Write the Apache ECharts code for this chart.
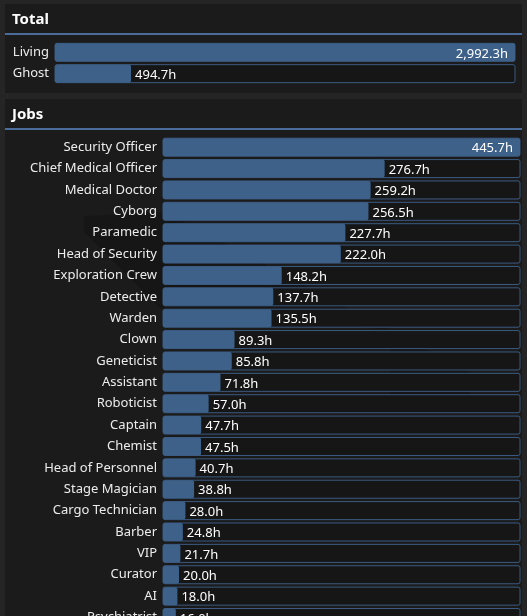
<!DOCTYPE html>
<html><head><meta charset="utf-8">
<script src="https://cdn.jsdelivr.net/npm/echarts@6/dist/echarts.min.js"></script>
<style>html,body{margin:0;padding:0;background:#252525;overflow:hidden;}#c{width:527px;height:640px;}</style>
</head><body><div id="c"></div>
<script>
const totalCats = ['Living', 'Ghost'];
const totalVals = [2992.3, 494.7];
const jobCats = ['Security Officer','Chief Medical Officer','Medical Doctor','Cyborg','Paramedic','Head of Security','Exploration Crew','Detective','Warden','Clown','Geneticist','Assistant','Roboticist','Captain','Chemist','Head of Personnel','Stage Magician','Cargo Technician','Barber','VIP','Curator','AI','Psychiatrist'];
const jobVals = [445.7,276.7,259.2,256.5,227.7,222.0,148.2,137.7,135.5,89.3,85.8,71.8,57.0,47.7,47.5,40.7,38.8,28.0,24.8,21.7,20.0,18.0,16.0];

const FONT = '"Noto Sans", sans-serif';
const fill = '#3e6189';
function fmt(v){ return v.toLocaleString('en-US',{minimumFractionDigits:1,maximumFractionDigits:1}) + 'h'; }
function mkData(vals){
  const mx = Math.max(...vals);
  return vals.map(v => ({
    value: v,
    label: v / mx > 0.85 ? {position:'insideRight', distance:7} : {position:'right', distance:4}
  }));
}
function mkSeries(idx, vals){
  return {
    type:'bar', xAxisIndex:idx, yAxisIndex:idx, barWidth:18, z:3,
    data: mkData(vals),
    itemStyle:{color:fill, borderRadius:2},
    showBackground:true,
    backgroundStyle:{color:'#161616', borderColor:'#3b5a80', borderWidth:1, borderRadius:2},
    label:{show:true, color:'#ffffff', fontSize:13, fontFamily:FONT, offset:[0,1.5], formatter:p=>fmt(p.value)},
    emphasis:{disabled:true}, animation:false
  };
}
function yAx(idx, cats){
  return {type:'category', gridIndex:idx, data:cats, inverse:true,
    axisLine:{show:false}, axisTick:{show:false}, splitLine:{show:false},
    axisLabel:{color:'#ececec', fontSize:13, fontFamily:FONT, margin:6, padding:[5,0,0,0]}};
}
function xAx(idx, vals){
  return {type:'value', gridIndex:idx, min:0, max:Math.max(...vals), show:false, splitLine:{show:false}};
}
const chart = echarts.init(document.getElementById('c'));
chart.setOption({
  backgroundColor:'#252525',
  animation:false,
  grid:[
    {left:55, width:460, top:41.7, height:42.6},
    {left:163, width:357, top:136.5, height:491.7}
  ],
  xAxis:[xAx(0,totalVals), xAx(1,jobVals)],
  yAxis:[yAx(0,totalCats), yAx(1,jobCats)],
  series:[mkSeries(0,totalVals), mkSeries(1,jobVals)],
  graphic:[
    {type:'rect', z:-10, shape:{x:5,y:4,width:517,height:89}, style:{fill:'#1b1b1b'}},
    {type:'rect', z:-10, shape:{x:5,y:33,width:517,height:2}, style:{fill:'#4a6c9a'}},
    {type:'text', z:-5, x:12, y:19.5, style:{text:'Total', fill:'#ffffff', font:'bold 15px "Noto Sans", sans-serif', textVerticalAlign:'middle'}},
    {type:'rect', z:-10, shape:{x:5,y:99,width:517,height:560}, style:{fill:'#1b1b1b'}},
    {type:'rect', z:-10, shape:{x:5,y:128,width:517,height:2}, style:{fill:'#4a6c9a'}},
    {type:'text', z:-5, x:12, y:114.5, style:{text:'Jobs', fill:'#ffffff', font:'bold 15px "Noto Sans", sans-serif', textVerticalAlign:'middle'}},
    {type:'polygon', z:-8, shape:{points:[[84,216],[165,212],[470,372],[470,398],[390,400],[390,330],[160,308],[84,232]]}, style:{fill:'rgba(0,0,0,0.15)'}}
  ]
});
</script></body></html>
